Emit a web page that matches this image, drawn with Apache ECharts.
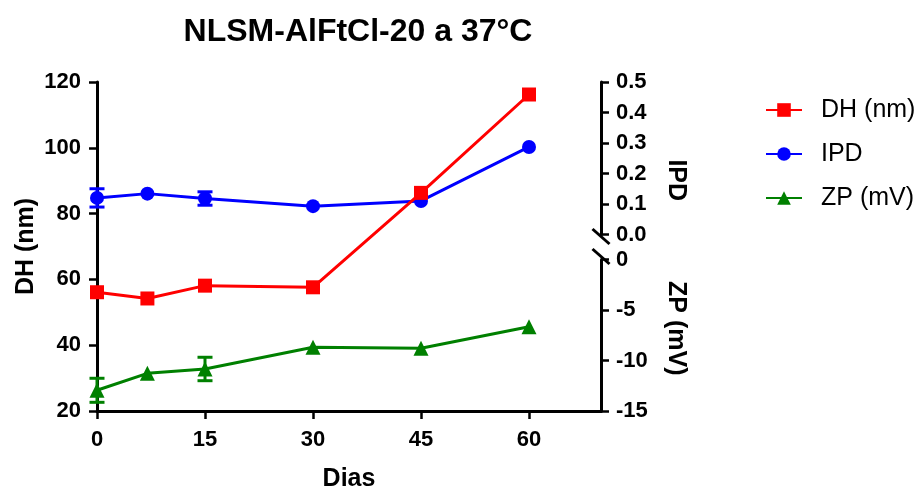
<!DOCTYPE html>
<html>
<head>
<meta charset="utf-8">
<script src="https://cdn.jsdelivr.net/npm/echarts@6/dist/echarts.min.js"></script>
<style>
  html, body { margin: 0; padding: 0; background: #fff; }
  #chart { width: 921px; height: 490px; }
</style>
</head>
<body>
<div id="chart"></div>
<script>
// Sampling days
const days = [0, 7, 15, 30, 45, 60];
const xTicks = [0, 15, 30, 45, 60];

// Hydrodynamic diameter (nm)
const dhValues = [56.1, 54.2, 58.1, 57.6, 86.3, 116.2];
const dhErrors = [0, 0, 0, 0, 0, 0];

// Polydispersity index
const ipdValues = [0.120, 0.134, 0.118, 0.093, 0.110, 0.287];
const ipdErrors = [0.030, 0, 0.022, 0, 0, 0];

// Zeta potential (mV)
const zpValues = [-12.95, -11.27, -10.84, -8.69, -8.79, -6.65];
const zpErrors = [1.19, 0, 1.16, 0, 0, 0];

const RED = '#ff0000', BLUE = '#0000ff', GREEN = '#008000';
const FONT = '"Liberation Sans", Arial, sans-serif';

const GRID_L = 97, GRID_R = 320, GRID_T = 82, GRID_B = 79;
const IPD_H = 152.5;            // upper right segment (IPD)
const ZP_TOP = 259.5;           // lower right segment (ZP) starts here

function pairs(vals) { return days.map((d, i) => [d, vals[i]]); }
function errTriples(vals, errs) {
  return days.map((d, i) => [d, vals[i], errs[i]]).filter(r => r[2] > 0);
}

function errorBar(color) {
  return function (params, api) {
    const x = api.value(0), y = api.value(1), e = api.value(2);
    const top = api.coord([x, y + e]);
    const bot = api.coord([x, y - e]);
    const cap = 7.5;
    const style = { stroke: color, lineWidth: 3 };
    return {
      type: 'group',
      children: [
        { type: 'line', shape: { x1: top[0], y1: top[1], x2: bot[0], y2: bot[1] }, style },
        { type: 'line', shape: { x1: top[0] - cap, y1: top[1], x2: top[0] + cap, y2: top[1] }, style },
        { type: 'line', shape: { x1: bot[0] - cap, y1: bot[1], x2: bot[0] + cap, y2: bot[1] }, style }
      ]
    };
  };
}

const tickLabel = { color: '#000', fontFamily: FONT, fontWeight: 'bold', fontSize: 22 };
const nameStyle = { color: '#000', fontFamily: FONT, fontWeight: 'bold', fontSize: 25 };
const axisLineStyle = { color: '#000', width: 3 };
const axisTickStyle = { color: '#000', width: 2.5 };

function hiddenX(gridIndex) {
  return { type: 'value', gridIndex, min: 0, max: 70, show: false };
}

const option = {
  backgroundColor: '#fff',
  animation: false,
  title: {
    text: 'NLSM-AlFtCl-20 a 37°C',
    left: 353, top: 11, textAlign: 'center',
    textStyle: { color: '#000', fontFamily: FONT, fontWeight: 'bold', fontSize: 32 }
  },
  legend: {
    orient: 'vertical',
    left: 760, top: 92,
    itemWidth: 36, itemHeight: 17, itemGap: 18,
    data: ['DH (nm)', 'IPD', 'ZP (mV)'],
    textStyle: { color: '#000', fontFamily: FONT, fontSize: 25, lineHeight: 26, padding: [0, 0, 0, 14] }
  },
  grid: [
    { left: GRID_L, right: GRID_R, top: GRID_T, bottom: GRID_B, outerBoundsMode: 'none' },
    { left: GRID_L, right: GRID_R, top: GRID_T, height: IPD_H, outerBoundsMode: 'none' },
    { left: GRID_L, right: GRID_R, top: ZP_TOP, bottom: GRID_B, outerBoundsMode: 'none' }
  ],
  xAxis: [
    {
      type: 'value', gridIndex: 0, min: 0, max: 70, interval: 15,
      name: 'Dias', nameLocation: 'middle', nameGap: 56,
      nameTextStyle: nameStyle,
      axisLine: { show: true, onZero: false, lineStyle: axisLineStyle },
      axisTick: { show: true, length: 8, lineStyle: axisTickStyle, customValues: xTicks },
      axisLabel: Object.assign({ margin: 18, customValues: xTicks }, tickLabel),
      splitLine: { show: false }
    },
    hiddenX(1),
    hiddenX(2)
  ],
  yAxis: [
    {
      type: 'value', gridIndex: 0, position: 'left', min: 20, max: 120, interval: 20,
      name: 'DH (nm)', nameLocation: 'middle', nameGap: 58, nameRotate: 90,
      nameMoveOverlap: false,
      nameTextStyle: nameStyle,
      axisLine: { show: true, onZero: false, lineStyle: axisLineStyle },
      axisTick: { show: true, length: 8, lineStyle: axisTickStyle },
      axisLabel: Object.assign({ margin: 16 }, tickLabel),
      splitLine: { show: false }
    },
    {
      type: 'value', gridIndex: 1, position: 'right', min: 0, max: 0.5, interval: 0.1,
      name: 'IPD', nameLocation: 'middle', nameGap: 62, nameRotate: -90,
      nameTextStyle: Object.assign({ padding: [0, 0, 0, 44] }, nameStyle),
      axisLine: { show: true, onZero: false, lineStyle: axisLineStyle },
      axisTick: { show: true, length: 8, lineStyle: axisTickStyle },
      axisLabel: Object.assign({ margin: 15, formatter: v => v.toFixed(1) }, tickLabel),
      splitLine: { show: false }
    },
    {
      type: 'value', gridIndex: 2, position: 'right', min: -15, max: 0, interval: 5,
      name: 'ZP (mV)', nameLocation: 'middle', nameGap: 62, nameRotate: -90,
      nameTextStyle: Object.assign({ padding: [0, 14, 0, 0] }, nameStyle),
      axisLine: { show: true, onZero: false, lineStyle: axisLineStyle },
      axisTick: { show: true, length: 8, lineStyle: axisTickStyle },
      axisLabel: Object.assign({ margin: 15 }, tickLabel),
      splitLine: { show: false }
    }
  ],
  series: [
    {
      name: 'ZP (mV)', type: 'line', xAxisIndex: 2, yAxisIndex: 2,
      data: pairs(zpValues), symbol: 'triangle', symbolSize: 15,
      itemStyle: { color: GREEN }, lineStyle: { color: GREEN, width: 3 }, z: 3
    },
    {
      type: 'custom', xAxisIndex: 2, yAxisIndex: 2, renderItem: errorBar(GREEN),
      data: errTriples(zpValues, zpErrors), z: 3, silent: true
    },
    {
      name: 'IPD', type: 'line', xAxisIndex: 1, yAxisIndex: 1,
      data: pairs(ipdValues), symbol: 'circle', symbolSize: 14,
      itemStyle: { color: BLUE }, lineStyle: { color: BLUE, width: 3 }, z: 4
    },
    {
      type: 'custom', xAxisIndex: 1, yAxisIndex: 1, renderItem: errorBar(BLUE),
      data: errTriples(ipdValues, ipdErrors), z: 4, silent: true
    },
    {
      name: 'DH (nm)', type: 'line', xAxisIndex: 0, yAxisIndex: 0,
      data: pairs(dhValues), symbol: 'rect', symbolSize: 14,
      itemStyle: { color: RED }, lineStyle: { color: RED, width: 3 }, z: 5
    },
    {
      type: 'custom', xAxisIndex: 0, yAxisIndex: 0, renderItem: errorBar(RED),
      data: errTriples(dhValues, dhErrors), z: 5, silent: true
    }
  ]
};

const chart = echarts.init(document.getElementById('chart'), null, { renderer: 'canvas' });
chart.setOption(option);

// Axis-break slashes where the IPD and ZP segments of the right axis end
const xr = chart.convertToPixel({ xAxisIndex: 1 }, 70);
const yIpd0 = chart.convertToPixel({ yAxisIndex: 1 }, 0);
const yZp0 = chart.convertToPixel({ yAxisIndex: 2 }, 0);
function slash(cx, cy) {
  return {
    type: 'line', z: 10,
    shape: { x1: cx - 8.5, y1: cy - 7.5, x2: cx + 8.5, y2: cy + 7.5 },
    style: { stroke: '#000', lineWidth: 3 }
  };
}
chart.setOption({
  graphic: [slash(xr, yIpd0 + 2), slash(xr, yZp0 - 3)]
});
</script>
</body>
</html>
